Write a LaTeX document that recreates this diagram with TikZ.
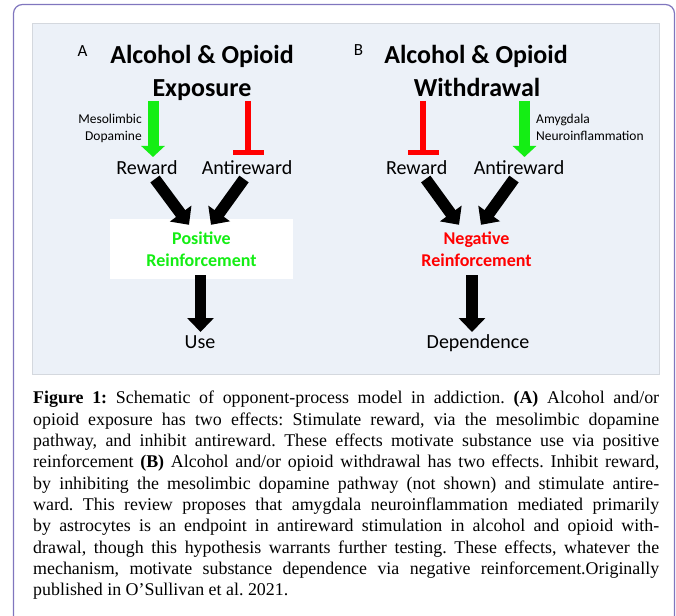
\documentclass[tikz,border=0pt]{standalone}
\usepackage{fontspec}
\setmainfont{Carlito}
\newfontfamily\capfont{Liberation Serif}
\usetikzlibrary{arrows.meta}
\definecolor{framec}{RGB}{128,118,190}
\definecolor{panelc}{RGB}{236,241,248}
\definecolor{panelb}{RGB}{212,216,222}
\definecolor{gr}{RGB}{20,238,20}
\definecolor{rd}{RGB}{255,0,0}
\frenchspacing
\begin{document}
\begin{tikzpicture}[x=1bp,y=-1bp,
  lbl/.style={inner sep=0pt, anchor=base},
  ttl/.style={lbl, font=\fontsize{26bp}{31bp}\selectfont\bfseries},
  mid/.style={lbl, font=\fontsize{20bp}{24bp}\selectfont},
  sml/.style={lbl, font=\fontsize{13.5bp}{16bp}\selectfont},
  letter/.style={lbl, font=\fontsize{17bp}{20bp}\selectfont},
  reinf/.style={inner sep=0pt, minimum width=183bp, minimum height=60bp, align=center,
     font=\fontsize{18bp}{22bp}\selectfont\bfseries},
  bigarrow/.style={line width=11.5bp, -{Triangle[width=26bp,length=14bp]}},
  garrow/.style={gr, line width=11bp, -{Triangle[width=23bp,length=11bp]}},
  tbar/.style={rd, line width=6bp, -{Bar[width=31bp,line width=5bp]}}]
\clip (0,0) rectangle (676,616);
\useasboundingbox (0,0) rectangle (676,616);
% frame and panel
\draw[framec, line width=1.2bp, rounded corners=9bp] (13.5,4.5) rectangle (674.5,660);
\draw[panelb, fill=panelc, line width=1bp] (32,24) rectangle (659,374);
% panel A
\node[letter] (la) at (82.5,57) {A};
\node[ttl] (tA1) at (202,64) {Alcohol \& Opioid};
\node[ttl] (tA2) at (202,96.7) {Exposure};
\node[sml, anchor=base east] (mesoA) at (142,124) {Mesolimbic};
\node[sml, anchor=base east] (dopA) at (142,140.5) {Dopamine};
\node[mid] (rewA) at (147,175) {Reward};
\node[mid] (antA) at (247,175) {Antireward};
\node[reinf, fill=white, text=gr] (boxA) at (201.5,249) {Positive\\Reinforcement};
\node[mid] (useA) at (200,348) {Use};
\coordinate (gA) at (153,101);
\coordinate (rA) at (248,101);
\draw[garrow] (gA) -- (gA |- 0,157);
\draw[tbar] (rA) -- (rA |- 0,155);
\draw[bigarrow] ([shift={(8,4)}]rewA.base) -- ([shift={(-12.5,6)}]boxA.north);
\draw[bigarrow] ([shift={(-3,4)}]antA.base) -- ([shift={(9.5,6)}]boxA.north);
\draw[bigarrow] ([shift={(-1,-4)}]boxA.south) -- ([shift={(0.5,-16)}]useA.base);
% panel B
\node[letter] (lb) at (358.5,56) {B};
\node[ttl] (tB1) at (476,64) {Alcohol \& Opioid};
\node[ttl] (tB2) at (477,96.7) {Withdrawal};
\node[sml, anchor=base west] (amyB) at (536,124) {Amygdala};
\node[sml, anchor=base west] (neuB) at (536,140.5) {Neuroinflammation};
\node[mid] (rewB) at (416.7,175) {Reward};
\node[mid] (antB) at (519,175) {Antireward};
\node[reinf, text=rd] (boxB) at (476.5,249) {Negative\\Reinforcement};
\node[mid] (depB) at (478,348) {Dependence};
\coordinate (gB) at (524.5,101);
\coordinate (rB) at (423,101);
\draw[garrow] (gB) -- (gB |- 0,157);
\draw[tbar] (rB) -- (rB |- 0,155);
\draw[bigarrow] ([shift={(9,4)}]rewB.base) -- ([shift={(-17.5,6)}]boxB.north);
\draw[bigarrow] ([shift={(-5,4)}]antB.base) -- ([shift={(4.5,6)}]boxB.north);
\draw[bigarrow] ([shift={(-4.5,-4)}]boxB.south) -- ([shift={(-6,-16)}]depB.base);
% caption
\node[anchor=north west, inner sep=0pt, align=left,
  font=\capfont\fontsize{17.9bp}{21.35bp}\selectfont] (cap) at (33,391) {%
\makebox[626bp][s]{\textbf{Figure 1:} Schematic of opponent-process model in addiction. \textbf{(A)} Alcohol and/or}\\
\makebox[626bp][s]{opioid exposure has two effects: Stimulate reward, via the mesolimbic dopamine}\\
\makebox[626bp][s]{pathway, and inhibit antireward. These effects motivate substance use via positive}\\
\makebox[626bp][s]{reinforcement \textbf{(B)} Alcohol and/or opioid withdrawal has two effects. Inhibit reward,}\\
\makebox[626bp][s]{by inhibiting the mesolimbic dopamine pathway (not shown) and stimulate antire-}\\
\makebox[626bp][s]{ward. This review proposes that amygdala neuroinflammation mediated primarily}\\
\makebox[626bp][s]{by astrocytes is an endpoint in antireward stimulation in alcohol and opioid with-}\\
\makebox[626bp][s]{drawal, though this hypothesis warrants further testing. These effects, whatever the}\\
\makebox[626bp][s]{mechanism, motivate substance dependence via negative reinforcement.Originally}\\
published in O’Sullivan et al. 2021.};
\end{tikzpicture}
\end{document}
